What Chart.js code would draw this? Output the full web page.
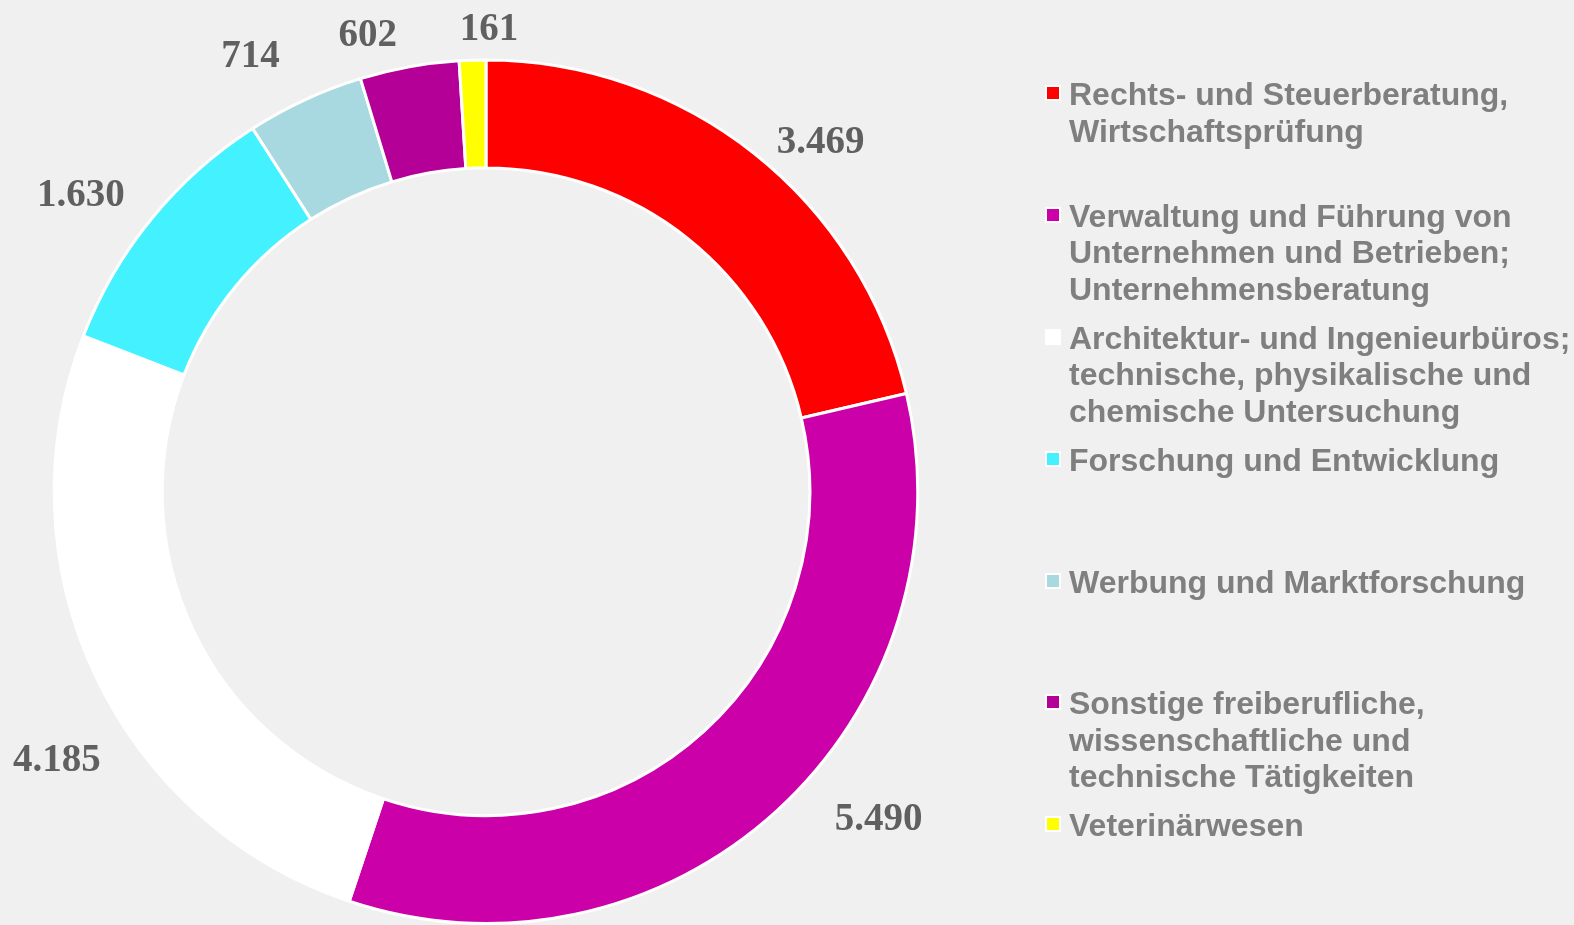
<!DOCTYPE html>
<html>
<head>
<meta charset="utf-8">
<script src="https://cdn.jsdelivr.net/npm/chart.js@4/dist/chart.umd.min.js"></script>
<style>
  html, body { margin: 0; padding: 0; background: #F0F0F0; }
  #wrap { position: relative; width: 1574px; height: 925px; overflow: hidden; }
  #c { position: absolute; left: 0; top: 0; }
  #legend { position: absolute; left: 1045px; top: 76px; font-family: "Liberation Sans", Arial, sans-serif;
            font-weight: bold; font-size: 32px; line-height: 36.5px; color: #7F7F7F; }
  .item { display: flex; align-items: flex-start; height: 121.9px; }
  .sw { width: 12px; height: 12px; border: 2px solid #fff; margin-top: 9px; margin-right: 8px; flex: none; }
  .txt { white-space: pre; }
</style>
</head>
<body>
<div id="wrap">
  <canvas id="c" width="1574" height="925"></canvas>
  <div id="legend"></div>
</div>
<script>
// ---- data ----
const categories = [
  "Rechts- und Steuerberatung,\nWirtschaftsprüfung",
  "Verwaltung und Führung von\nUnternehmen und Betrieben;\nUnternehmensberatung",
  "Architektur- und Ingenieurbüros;\ntechnische, physikalische und\nchemische Untersuchung",
  "Forschung und Entwicklung",
  "Werbung und Marktforschung",
  "Sonstige freiberufliche,\nwissenschaftliche und\ntechnische Tätigkeiten",
  "Veterinärwesen"
];
const values = [3469, 5490, 4185, 1630, 714, 602, 161];
const colors = ["#FF0000", "#CC00A8", "#FFFFFF", "#44F2FF", "#A9D9E0", "#B40096", "#FFFF00"];

function fmtDE(v) {
  return String(v).replace(/\B(?=(\d{3})+(?!\d))/g, ".");
}

// ---- legend (HTML) ----
const legend = document.getElementById("legend");
categories.forEach((cat, i) => {
  const it = document.createElement("div");
  it.className = "item";
  const sw = document.createElement("div");
  sw.className = "sw";
  sw.style.background = colors[i];
  const tx = document.createElement("div");
  tx.className = "txt";
  tx.textContent = cat;
  it.appendChild(sw); it.appendChild(tx);
  legend.appendChild(it);
});

// ---- value labels outside the ring ----
const outsideLabels = {
  id: "outsideLabels",
  afterDatasetsDraw(chart, args, opts) {
    const ctx = chart.ctx;
    const meta = chart.getDatasetMeta(0);
    ctx.save();
    ctx.font = opts.font;
    ctx.fillStyle = opts.color;
    ctx.textAlign = "center";
    ctx.textBaseline = "middle";
    meta.data.forEach((arc, i) => {
      const p = arc.getProps(["x", "y", "startAngle", "endAngle", "outerRadius"], true);
      const a = (p.startAngle + p.endAngle) / 2;
      const txt = fmtDE(chart.data.datasets[0].data[i]);
      const w = ctx.measureText(txt).width;
      const h = opts.textHeight;
      const r = p.outerRadius + opts.gap;
      const n = (opts.nudge && opts.nudge[i]) || [0, 0];
      const cx = p.x + Math.cos(a) * r + Math.cos(a) * w / 2 + n[0];
      const cy = p.y + Math.sin(a) * r + Math.sin(a) * h / 2 + n[1] + opts.baselineShift;
      ctx.fillText(txt, cx, cy);
    });
    ctx.restore();
  }
};

new Chart(document.getElementById("c"), {
  type: "doughnut",
  data: {
    labels: categories.map(c => c.replace(/\n/g, " ")),
    datasets: [{
      data: values,
      backgroundColor: colors,
      borderColor: "#FFFFFF",
      borderWidth: 3
    }]
  },
  options: {
    responsive: false,
    animation: false,
    cutout: "75%",
    layout: { padding: { left: 52.5, right: 654.5, top: 58.5, bottom: -0.5 } },
    plugins: {
      legend: { display: false },
      tooltip: { enabled: false },
      outsideLabels: {
        font: "bold 39px 'Liberation Serif', serif", color: "#606060", gap: 24, textHeight: 26,
        baselineShift: 4,
        nudge: [[24, 14], [56, -22], [23, 66], [-18, -3], [-32, -13], [-32, 1], [18, 3]]
      }
    }
  },
  plugins: [outsideLabels]
});
</script>
</body>
</html>
